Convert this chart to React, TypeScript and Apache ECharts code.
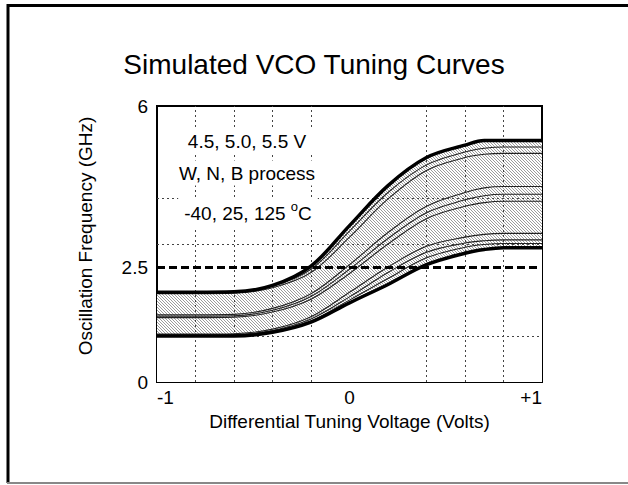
import React, { useEffect, useRef } from "react";
import * as echarts from "echarts";

// Differential tuning voltage (V) sample positions
const voltage = [-1, -0.8, -0.6, -0.4, -0.2, 0, 0.2, 0.4, 0.6, 0.7, 0.8, 1];

// Envelope curves (GHz)
const upperEnvelope = [1.95, 1.95, 1.96, 2.1, 2.52, 3.4, 4.27, 4.88, 5.15, 5.25, 5.25, 5.25];
const lowerEnvelope = [1.0, 1.0, 1.0, 1.08, 1.3, 1.72, 2.12, 2.55, 2.8, 2.88, 2.92, 2.92];

// Inner corner curves (GHz)
const curveT1 = [1.94, 1.94, 1.95, 2.08, 2.45, 3.28, 4.12, 4.72, 5.0, 5.08, 5.11, 5.11];
const curveT2 = [1.92, 1.92, 1.93, 2.05, 2.38, 3.15, 3.98, 4.6, 4.88, 4.95, 4.97, 4.97];
const curveM1 = [1.46, 1.46, 1.47, 1.6, 1.92, 2.55, 3.25, 3.82, 4.12, 4.22, 4.25, 4.25];
const curveM2 = [1.43, 1.43, 1.44, 1.56, 1.86, 2.45, 3.12, 3.68, 3.96, 4.05, 4.08, 4.08];
const curveM3 = [1.4, 1.4, 1.41, 1.52, 1.8, 2.36, 3.0, 3.55, 3.82, 3.9, 3.93, 3.93];
const curveB1 = [1.04, 1.04, 1.05, 1.15, 1.42, 1.95, 2.5, 2.95, 3.15, 3.21, 3.23, 3.23];
const curveB2 = [1.02, 1.02, 1.03, 1.12, 1.37, 1.85, 2.38, 2.82, 3.02, 3.07, 3.09, 3.09];
const curveB3 = [1.01, 1.01, 1.02, 1.1, 1.33, 1.78, 2.25, 2.7, 2.93, 2.99, 3.01, 3.01];
const innerCurves = [curveT1, curveT2, curveM1, curveM2, curveM3, curveB1, curveB2, curveB3];

const thresholdGHz = 2.5;

// Tick labels shown
const yTickLabels = [0, 2.5, 6];
const xTickLabels = [-1, 0, 1];

// Gridline positions
const hGridValues = [1, 3, 4];
const vGridValues = [-0.8, -0.6, -0.4, -0.2, 0.4, 0.6, 0.8];

const notes = ["4.5, 5.0, 5.5 V", "W, N, B process"];
const tempNote = "-40, 25, 125 ";

const FONT = "'Liberation Sans', Arial, Helvetica, sans-serif";

function makeHatch(): HTMLCanvasElement {
  const c = document.createElement("canvas");
  const n = 3;
  c.width = n;
  c.height = n;
  const ctx = c.getContext("2d")!;
  const img = ctx.createImageData(n, n);
  for (let j = 0; j < n; j++) {
    for (let i = 0; i < n; i++) {
      const k = (j * n + i) * 4;
      const on = (i - j + n * 4) % n === 0;
      const g = on ? 155 : 255;
      img.data[k] = g;
      img.data[k + 1] = g;
      img.data[k + 2] = g;
      img.data[k + 3] = 255;
    }
  }
  ctx.putImageData(img, 0, 0);
  return c;
}

export default function App() {
  const ref = useRef<HTMLDivElement>(null);

  useEffect(() => {
    if (!ref.current) return;
    const chart = echarts.init(ref.current, undefined, { renderer: "svg" });
    const pair = (arr: number[]) => arr.map((v, i) => [voltage[i], v]);
    const hatch = makeHatch();
    const SMOOTH = 0.35;

    const series: any[] = [
      {
        name: "bandTop",
        type: "line",
        data: pair(upperEnvelope),
        smooth: SMOOTH,
        symbol: "none",
        lineStyle: { width: 0, opacity: 0 },
        areaStyle: {
          origin: "start",
          color: { image: hatch, repeat: "repeat", imageWidth: 3, imageHeight: 3 },
          opacity: 1,
        },
        silent: true,
        z: 1,
      },
      {
        name: "bandBottom",
        type: "line",
        data: pair(lowerEnvelope),
        smooth: SMOOTH,
        symbol: "none",
        lineStyle: { width: 0, opacity: 0 },
        areaStyle: { origin: "start", color: "#fff", opacity: 1 },
        silent: true,
        z: 1,
      },
      {
        name: "grid",
        type: "line",
        data: [],
        z: 2,
        markLine: {
          silent: true,
          symbol: "none",
          z: 2,
          label: { show: false },
          lineStyle: { color: "#444", width: 1, type: [2, 3] },
          data: [
            ...hGridValues.map((v) => ({ yAxis: v })),
            ...vGridValues.map((v) => ({ xAxis: v })),
          ],
        },
      },
      ...innerCurves.map((c, idx) => ({
        name: "corner" + idx,
        type: "line",
        data: pair(c),
        smooth: SMOOTH,
        symbol: "none",
        lineStyle: { color: "#222", width: 1.1 },
        z: 3,
      })),
      {
        name: "upper",
        type: "line",
        data: pair(upperEnvelope),
        smooth: SMOOTH,
        symbol: "none",
        lineStyle: { color: "#000", width: 3.5 },
        z: 4,
      },
      {
        name: "lower",
        type: "line",
        data: pair(lowerEnvelope),
        smooth: SMOOTH,
        symbol: "none",
        lineStyle: { color: "#000", width: 3.5 },
        z: 4,
      },
      {
        name: "threshold",
        type: "line",
        data: [],
        z: 5,
        markLine: {
          silent: true,
          symbol: "none",
          z: 5,
          label: { show: false },
          lineStyle: { color: "#000", width: 3, type: [8, 4] },
          data: [[{ coord: [-1, thresholdGHz] }, { coord: [0.99, thresholdGHz] }]],
        },
      },
    ];

    const isLabel = (v: number, list: number[]) => list.some((t) => Math.abs(t - v) < 1e-6);

    chart.setOption({
      animation: false,
      backgroundColor: "#fff",
      title: {
        text: "Simulated VCO Tuning Curves",
        left: "center",
        top: 45,
        textStyle: { fontFamily: FONT, fontSize: 28, fontWeight: "normal", color: "#000" },
      },
      grid: {
        left: 157,
        top: 106,
        width: 385,
        height: 276,
        show: true,
        borderColor: "#000",
        borderWidth: 2,
        backgroundColor: "transparent",
        containLabel: false,
      },
      xAxis: {
        type: "value",
        min: -1,
        max: 1,
        interval: 0.2,
        name: "Differential Tuning Voltage (Volts)",
        nameLocation: "middle",
        nameGap: 26,
        nameTextStyle: { fontFamily: FONT, fontSize: 19, color: "#000" },
        axisLine: { show: false },
        axisTick: { show: false },
        splitLine: { show: false },
        axisLabel: {
          fontFamily: FONT,
          fontSize: 19,
          color: "#000",
          margin: 6,
          alignMinLabel: "left",
          alignMaxLabel: "right",
          formatter: (v: number) =>
            isLabel(v, xTickLabels) ? (v > 0 ? "+" + Math.round(v) : String(Math.round(v))) : "",
        },
      },
      yAxis: {
        type: "value",
        min: 0,
        max: 6,
        interval: 0.5,
        name: "Oscillation Frequency (GHz)",
        nameLocation: "middle",
        nameGap: 62,
        nameTextStyle: { fontFamily: FONT, fontSize: 19, color: "#000", padding: [0, 0, 0, 16] },
        axisLine: { show: false },
        axisTick: { show: false },
        splitLine: { show: false },
        axisLabel: {
          fontFamily: FONT,
          fontSize: 19,
          color: "#000",
          margin: 9,
          formatter: (v: number) => (isLabel(v, yTickLabels) ? String(v) : ""),
        },
      },
      graphic: [
        { type: "line", z: 200, shape: { x1: 7, y1: 5.5, x2: 628, y2: 5.5 }, style: { stroke: "#000", lineWidth: 3 } },
        { type: "line", z: 200, shape: { x1: 8, y1: 4, x2: 8, y2: 483 }, style: { stroke: "#000", lineWidth: 3 } },
        { type: "line", z: 200, shape: { x1: 7, y1: 483, x2: 628, y2: 483 }, style: { stroke: "#888", lineWidth: 2 } },
        {
          type: "text",
          z: 100,
          x: 247,
          y: 141,
          style: {
            text: notes[0],
            fontFamily: FONT,
            fontSize: 19,
            fill: "#000",
            align: "center",
            verticalAlign: "middle",
            backgroundColor: "#fff",
            padding: [3, 6],
          },
        },
        {
          type: "text",
          z: 100,
          x: 247,
          y: 173,
          style: {
            text: notes[1],
            fontFamily: FONT,
            fontSize: 19,
            fill: "#000",
            align: "center",
            verticalAlign: "middle",
            backgroundColor: "#fff",
            padding: [3, 6],
          },
        },
        {
          type: "text",
          z: 100,
          x: 248,
          y: 213,
          style: {
            text: "{a|" + tempNote + "}{s|o}{a|C}",
            fontFamily: FONT,
            fontSize: 19,
            fill: "#000",
            align: "center",
            verticalAlign: "middle",
            backgroundColor: "#fff",
            padding: [3, 6],
            rich: {
              a: { fontFamily: FONT, fontSize: 19, lineHeight: 26, fill: "#000" },
              s: { fontFamily: FONT, fontSize: 13, lineHeight: 14, verticalAlign: "top", fill: "#000" },
            },
          },
        },
      ],
      series,
    });

    return () => chart.dispose();
  }, []);

  return (
    <div
      ref={ref}
      style={{ position: "absolute", left: 0, top: 0, width: 628, height: 485, background: "#fff" }}
    />
  );
}
